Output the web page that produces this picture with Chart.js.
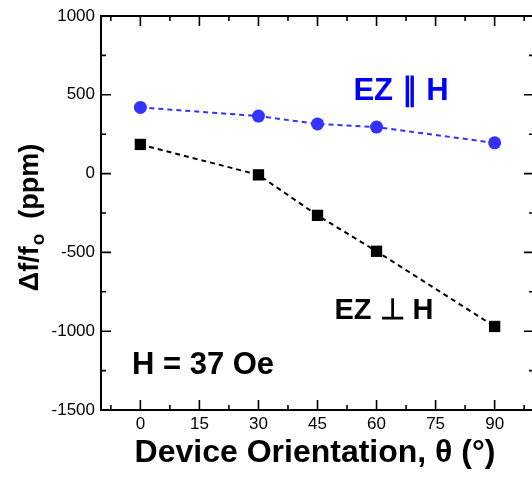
<!DOCTYPE html>
<html>
<head>
<meta charset="utf-8">
<script src="https://cdn.jsdelivr.net/npm/chart.js"></script>
<style>
  html, body { margin: 0; padding: 0; background: #fff; overflow: hidden; }
</style>
</head>
<body>
<canvas id="chart" width="560" height="477"></canvas>
<script>
// ====== DATA ======
const angles = [0, 30, 45, 60, 90];
const parallelValues = [420, 365, 315, 295, 195];      // EZ || H (blue circles)
const perpValues = [185, -8, -265, -493, -970];         // EZ perp H (black squares)
const xTicks = [0, 15, 30, 45, 60, 75, 90];
const yTicks = [-1500, -1000, -500, 0, 500, 1000];
const xMinor = [-7.5, 7.5, 22.5, 37.5, 52.5, 67.5, 82.5, 97.5];
const yMinor = [-1250, -750, -250, 250, 750];

const FONT = "'Liberation Sans', Arial, sans-serif";

// ====== FRAME, INWARD TICKS, TEXT ======
const framePlugin = {
  id: "frame",
  afterDraw(chart) {
    const ctx = chart.ctx;
    const a = chart.chartArea;
    const xs = chart.scales.x, ys = chart.scales.y;
    ctx.save();
    ctx.strokeStyle = "#000";
    ctx.lineWidth = 2;
    ctx.strokeRect(a.left, a.top, a.right - a.left, a.bottom - a.top);

    function vTick(v, len) {
      const px = xs.getPixelForValue(v);
      ctx.beginPath();
      ctx.moveTo(px, a.bottom); ctx.lineTo(px, a.bottom - len);
      ctx.moveTo(px, a.top); ctx.lineTo(px, a.top + len);
      ctx.stroke();
    }
    function hTick(v, len) {
      const py = ys.getPixelForValue(v);
      ctx.beginPath();
      ctx.moveTo(a.left, py); ctx.lineTo(a.left + len, py);
      ctx.moveTo(a.right, py); ctx.lineTo(a.right - len, py);
      ctx.stroke();
    }
    ctx.lineWidth = 1.6;
    xTicks.forEach(v => vTick(v, 10));
    xMinor.forEach(v => vTick(v, 5));
    yTicks.forEach(v => hTick(v, 10));
    yMinor.forEach(v => hTick(v, 5));

    // annotations
    ctx.textAlign = "center";
    ctx.textBaseline = "middle";
    ctx.font = "bold 31px " + FONT;
    ctx.fillStyle = "#0000ff";
    ctx.fillText("EZ \u2225 H", 401, 91);
    ctx.fillStyle = "#000";
    ctx.font = "bold 29px " + FONT;
    ctx.fillText("EZ \u22A5 H", 384, 311);
    ctx.font = "bold 31px " + FONT;
    ctx.fillText("H = 37 Oe", 203, 365);

    // x title
    ctx.font = "bold 32px " + FONT;
    ctx.fillText("Device Orientation, \u03B8 (\u00B0)", 315, 453);

    // y title (rotated, with subscript)
    ctx.translate(38, 218);
    ctx.rotate(-Math.PI / 2);
    ctx.textAlign = "left";
    ctx.textBaseline = "alphabetic";
    const mainFont = "bold 27px " + FONT;
    const subFont = "bold 19px " + FONT;
    const p1 = "\u0394f/f", p2 = "o", p3 = "  (ppm)";
    ctx.font = mainFont;
    const w1 = ctx.measureText(p1).width, w3 = ctx.measureText(p3).width;
    ctx.font = subFont;
    const w2 = ctx.measureText(p2).width;
    let x0 = -(w1 + w2 + w3) / 2;
    ctx.font = mainFont;
    ctx.fillText(p1, x0, 0);
    ctx.font = subFont;
    ctx.fillText(p2, x0 + w1 + 1, 6);
    ctx.font = mainFont;
    ctx.fillText(p3, x0 + w1 + w2 + 1, 0);
    ctx.restore();
  }
};

new Chart(document.getElementById("chart"), {
  type: "line",
  data: {
    datasets: [
      {
        label: "EZ || H",
        data: angles.map((a, i) => ({ x: a, y: parallelValues[i] })),
        borderColor: "#3333ff",
        backgroundColor: "#3333ff",
        borderWidth: 2,
        borderDash: [5, 4],
        pointStyle: "circle",
        pointRadius: 6.5,
        pointBorderWidth: 0,
        tension: 0
      },
      {
        label: "EZ perp H",
        data: angles.map((a, i) => ({ x: a, y: perpValues[i] })),
        borderColor: "#000",
        backgroundColor: "#000",
        borderWidth: 2,
        borderDash: [5, 4],
        pointStyle: "rect",
        pointRadius: 8,
        pointBorderWidth: 0,
        tension: 0
      }
    ]
  },
  options: {
    responsive: false,
    animation: false,
    layout: { padding: { top: 16, right: 26, left: 0, bottom: 0 } },
    plugins: { legend: { display: false }, tooltip: { enabled: false } },
    scales: {
      x: {
        type: "linear",
        min: -10,
        max: 100,
        afterBuildTicks: s => { s.ticks = xTicks.map(v => ({ value: v })); },
        afterFit: s => { s.height = 67; s.paddingLeft = 0; s.paddingRight = 0; },
        grid: { display: false },
        border: { display: false },
        ticks: { color: "#000", font: { family: FONT, size: 17 }, padding: -4, maxRotation: 0,
                 callback: v => String(v) }
      },
      y: {
        type: "linear",
        min: -1500,
        max: 1000,
        afterBuildTicks: s => { s.ticks = yTicks.map(v => ({ value: v })); },
        afterFit: s => { s.width = 101; s.paddingTop = 0; s.paddingBottom = 0; },
        grid: { display: false },
        border: { display: false },
        ticks: { color: "#000", font: { family: FONT, size: 17 }, padding: -2,
                 callback: v => String(v) }
      }
    }
  },
  plugins: [framePlugin]
});
</script>
</body>
</html>
